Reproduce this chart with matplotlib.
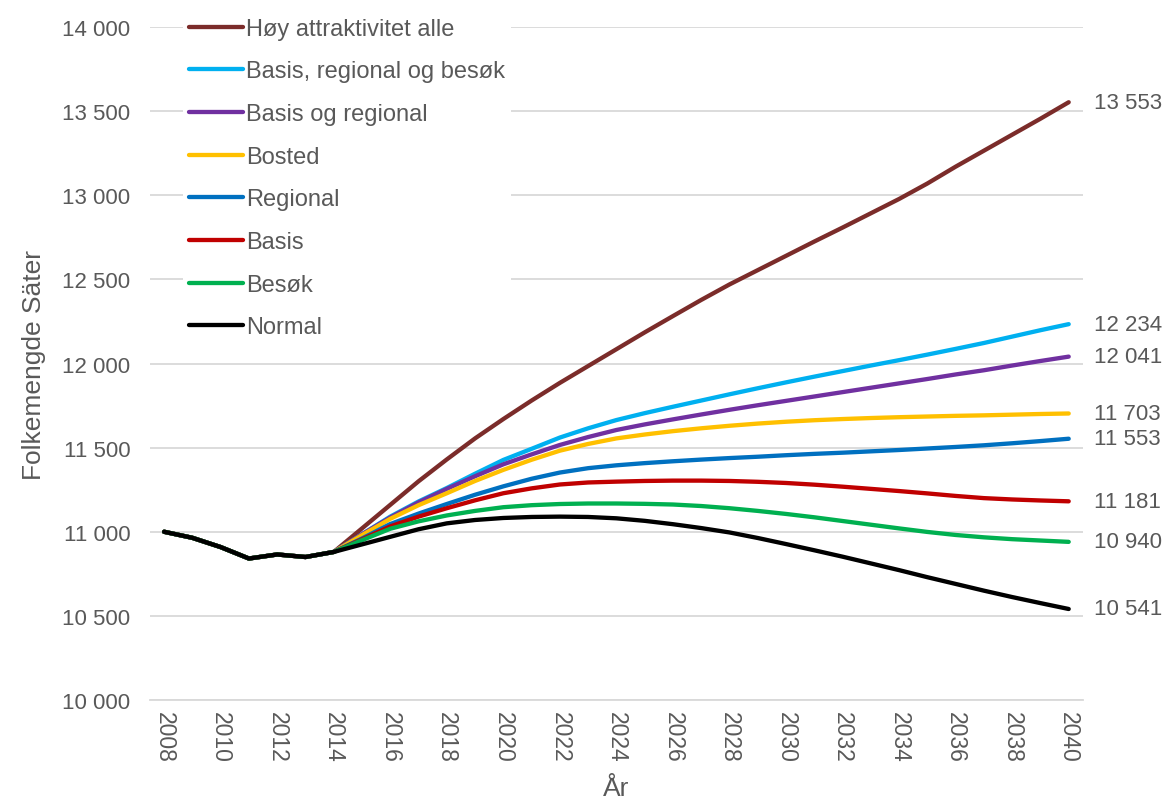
import matplotlib
matplotlib.use("Agg")
import matplotlib.pyplot as plt
from matplotlib.ticker import FuncFormatter

plt.rcParams['font.family'] = ['Liberation Sans', 'DejaVu Sans']

# --- data ---
years = list(range(2008, 2041))
historikk = [11000, 10964, 10909, 10841, 10865, 10850]  # 2008-2013

hoy = [10880, 11020, 11160, 11300, 11430, 11555, 11670, 11780, 11885, 11985,
       12085, 12185, 12282, 12378, 12470, 12555, 12640, 12725, 12808, 12893,
       12978, 13070, 13170, 13265, 13360, 13455, 13553]
basis_reg_besok = [10880, 10985, 11090, 11180, 11260, 11345, 11427, 11493, 11560, 11615,
                   11664, 11705, 11743, 11780, 11817, 11853, 11888, 11922, 11955, 11988,
                   12020, 12053, 12087, 12122, 12160, 12198, 12234]
basis_reg = [10880, 10985, 11085, 11175, 11255, 11330, 11401, 11460, 11516, 11563,
             11605, 11638, 11668, 11697, 11725, 11752, 11778, 11804, 11830, 11856,
             11882, 11908, 11935, 11960, 11988, 12015, 12041]
bosted = [10880, 10980, 11077, 11158, 11229, 11302, 11368, 11428, 11482, 11522,
          11555, 11578, 11598, 11615, 11630, 11643, 11654, 11663, 11670, 11676,
          11681, 11685, 11689, 11692, 11696, 11700, 11703]
regional = [10880, 10960, 11046, 11108, 11165, 11220, 11270, 11315, 11352, 11378,
            11395, 11408, 11419, 11429, 11438, 11446, 11455, 11463, 11470, 11478,
            11486, 11495, 11504, 11514, 11526, 11539, 11553]
basis = [10880, 10955, 11032, 11090, 11140, 11187, 11229, 11258, 11281, 11293,
         11298, 11302, 11304, 11304, 11302, 11297, 11290, 11280, 11268, 11255,
         11242, 11228, 11213, 11200, 11192, 11186, 11181]
besok = [10880, 10950, 11018, 11062, 11097, 11124, 11146, 11158, 11165, 11168,
         11168, 11166, 11162, 11153, 11140, 11124, 11106, 11086, 11064, 11042,
         11020, 10999, 10981, 10967, 10956, 10948, 10940]
normal = [10880, 10925, 10970, 11015, 11050, 11070, 11082, 11088, 11090, 11088,
          11080, 11065, 11045, 11022, 10996, 10963, 10927, 10890, 10852, 10812,
          10772, 10730, 10690, 10650, 10612, 10576, 10541]

navn = ['Høy attraktivitet alle', 'Basis, regional og besøk', 'Basis og regional',
        'Bosted', 'Regional', 'Basis', 'Besøk', 'Normal']
serier = [hoy, basis_reg_besok, basis_reg, bosted, regional, basis, besok, normal]
farger = ['#7B2C2A', '#00B0F0', '#7030A0', '#FFC000', '#0070C0', '#C00000', '#00B050', '#000000']

grey = '#595959'

fig = plt.figure(figsize=(11.69, 8.03), dpi=100)
ax = fig.add_axes([0.1283, 0.127, 0.798, 0.8381])

for n, s, c in zip(navn, serier, farger):
    ax.plot(years, historikk + s, color=c, lw=3.1, label=n, solid_capstyle='round')
    ax.text(2040.9, s[-1], f"{s[-1]:,}".replace(',', ' '), va='center', ha='left',
            fontsize=16, color=grey)

ax.set_xlim(2007.5, 2040.5)
ax.set_ylim(10000, 14000)
ax.set_yticks(range(10000, 14001, 500))
ax.yaxis.set_major_formatter(FuncFormatter(lambda v, p: f"{int(v):,}".replace(',', ' ')))
ax.set_xticks(range(2008, 2041, 2))
ax.tick_params(axis='both', length=0, labelcolor=grey)
ax.tick_params(axis='y', pad=14, labelsize=16)
ax.tick_params(axis='x', pad=8, labelrotation=270, labelsize=16.5)
ax.grid(axis='y', color='#D9D9D9', lw=1.3)
ax.set_axisbelow(True)
for sp in ['top', 'right', 'left']:
    ax.spines[sp].set_visible(False)
ax.spines['bottom'].set_color('#D9D9D9')
ax.spines['bottom'].set_linewidth(1.3)

ax.set_ylabel('Folkemengde Säter', fontsize=19, color=grey, labelpad=12)
ax.set_xlabel('År', fontsize=19, color=grey, labelpad=10)

leg = ax.legend(loc='upper left', bbox_to_anchor=(0.023, 1.04), fontsize=17,
                frameon=True, facecolor='white', edgecolor='none', framealpha=1,
                handlelength=2.3, handletextpad=0.1, labelspacing=0.875, borderpad=0.25)
for t in leg.get_texts():
    t.set_color(grey)

fig.savefig('out.png', dpi=100)
